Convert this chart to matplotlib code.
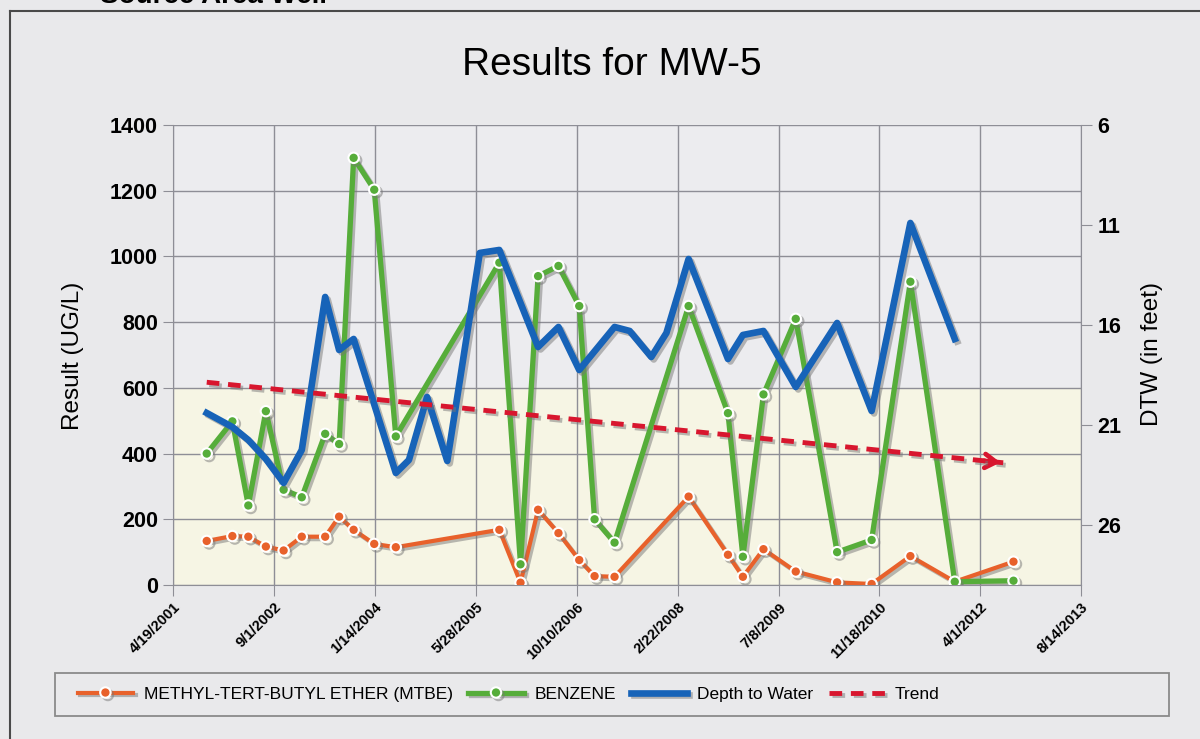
import matplotlib
matplotlib.use("Agg")
import matplotlib.pyplot as plt
import matplotlib.patheffects as pe
import matplotlib.dates as mdates
from matplotlib.lines import Line2D
from matplotlib.patches import Rectangle
import pandas as pd

# sampling dates shared by MTBE and benzene
sample_dates = ["2001-10-03", "2002-02-07", "2002-04-27", "2002-07-23", "2002-10-19",
                "2003-01-17", "2003-05-13", "2003-07-21", "2003-10-01", "2004-01-11",
                "2004-04-27", "2005-09-22", "2006-01-05", "2006-04-02", "2006-07-12",
                "2006-10-23", "2007-01-07", "2007-04-16", "2008-04-17", "2008-10-29",
                "2009-01-11", "2009-04-23", "2009-09-30", "2010-04-23", "2010-10-11",
                "2011-04-21", "2011-11-27", "2012-09-13"]
mtbe = [134, 149, 147, 117, 105, 147, 147, 208, 168, 125, 115, 168, 7, 229, 158,
        76, 27, 25, 269, 92, 25, 109, 41, 8, 3, 88, 10, 71]
benzene = [400, 498, 242, 529, 290, 267, 460, 429, 1300, 1203, 452, 981, 63, 940, 971,
           849, 200, 129, 849, 523, 86, 580, 810, 100, 137, 923, 10, 13]

# depth to water (feet)
dtw_dates = ["2001-10-03", "2002-02-07", "2002-04-27", "2002-07-23", "2002-10-19",
             "2003-01-17", "2003-05-13", "2003-07-21", "2003-10-01", "2004-04-27",
             "2004-07-01", "2004-09-29", "2005-01-07", "2005-06-17", "2005-09-22",
             "2006-04-02", "2006-07-12", "2006-10-23", "2007-04-16", "2007-06-30",
             "2007-10-15", "2007-12-29", "2008-04-17", "2008-10-29", "2009-01-11",
             "2009-04-23", "2009-09-30", "2010-04-23", "2010-10-11", "2011-04-21",
             "2011-11-27"]
dtw = [20.4, 21.1, 21.75, 22.7, 23.9, 22.25, 14.6, 17.25, 16.7, 23.4,
       22.75, 19.6, 22.8, 12.4, 12.25, 17.1, 16.1, 18.25, 16.1, 16.3,
       17.6, 16.4, 12.7, 17.7, 16.5, 16.3, 19.1, 15.9, 20.3, 10.9, 16.7]

trend_dates = ["2001-10-03", "2012-07-24"]
trend_values = [617, 372]

tick_dates = ["2001-04-19", "2002-09-01", "2004-01-14", "2005-05-28", "2006-10-10",
              "2008-02-22", "2009-07-08", "2010-11-18", "2012-04-01", "2013-08-14"]
tick_labels = ["4/19/2001", "9/1/2002", "1/14/2004", "5/28/2005", "10/10/2006",
               "2/22/2008", "7/8/2009", "11/18/2010", "4/1/2012", "8/14/2013"]
result_ticks = [0, 200, 400, 600, 800, 1000, 1200, 1400]
dtw_ticks = [6, 11, 16, 21, 26]

plt.rcParams["font.family"] = ["Liberation Sans", "DejaVu Sans"]

sd = mdates.date2num(pd.to_datetime(sample_dates))
dd = mdates.date2num(pd.to_datetime(dtw_dates))
td = mdates.date2num(pd.to_datetime(trend_dates))
xt = mdates.date2num(pd.to_datetime(tick_dates))

fig = plt.figure(figsize=(12, 7.39), dpi=100, facecolor="#e9e9eb")
ax = fig.add_axes([0.1442, 0.2084, 0.7567, 0.6225])
ax.set_facecolor("#ececef")
ax.axhspan(0, 600, color="#f6f5e4", zorder=0)

shadow = [pe.SimpleLineShadow(offset=(1.8, -1.8), shadow_color="#777777", alpha=0.5), pe.Normal()]

l1, = ax.plot(sd, mtbe, color="#e8612b", lw=3, marker="o", ms=7.5, mec="white", mew=1.5,
              path_effects=shadow, zorder=3, label="METHYL-TERT-BUTYL ETHER (MTBE)")
l2, = ax.plot(sd, benzene, color="#56ad3a", lw=3.8, marker="o", ms=7.5, mec="white", mew=1.5,
              path_effects=shadow, zorder=4, label="BENZENE")

ax.set_xlim(xt[0], xt[-1])
ax.set_ylim(0, 1400)
ax.set_xticks(xt)
ax.set_xticklabels(tick_labels, rotation=45, ha="right", rotation_mode="anchor",
                   fontsize=10.5, fontweight="bold")
ax.set_yticks(result_ticks, labels=[str(v) for v in result_ticks], fontsize=15.5, fontweight="bold")
ax.grid(True, color="#8e8e96", lw=1)
ax.set_axisbelow(True)
ax.tick_params(axis="y", length=7, color="#8e8e96", pad=4)
ax.tick_params(axis="x", length=8, color="#8e8e96", pad=3)
for s in ["top", "right"]:
    ax.spines[s].set_visible(False)
for s in ["left", "bottom"]:
    ax.spines[s].set_color("#8e8e96")

ax2 = ax.twinx()
l3, = ax2.plot(dd, dtw, color="#1763b8", lw=4.8, path_effects=shadow, zorder=5, label="Depth to Water")
ax2.set_ylim(29, 6)
ax2.set_yticks(dtw_ticks, labels=[str(v) for v in dtw_ticks], fontsize=15.5, fontweight="bold")
ax2.tick_params(axis="y", length=8, color="#8e8e96", pad=4)
for s in ["top", "left", "bottom"]:
    ax2.spines[s].set_visible(False)
ax2.spines["right"].set_color("#8e8e96")
ax2.set_xlim(xt[0], xt[-1])

# trend drawn on top using the result axis scale
l4, = ax2.plot(td, trend_values, transform=ax.transData, color="#d8162e", lw=3.5,
               dashes=(2.6, 1.8), path_effects=shadow, zorder=6, label="Trend")
ax2.annotate("", xy=(td[-1], trend_values[-1]), xycoords=ax.transData,
             xytext=(-16, 1.6), textcoords="offset points",
             arrowprops=dict(arrowstyle="->,head_length=0.8,head_width=0.5",
                             color="#d8162e", lw=3.4))
ax2.set_ylim(29, 6)

fig.text(612 / 1200, 1 - 65 / 739, "Results for MW-5", ha="center", va="center", fontsize=28)
fig.text(73 / 1200, 1 - 356 / 739, "Result (UG/L)", rotation=90, ha="center", va="center", fontsize=17.5)
fig.text(1152 / 1200, 1 - 354 / 739, "DTW (in feet)", rotation=90, ha="center", va="center", fontsize=17.5)
fig.text(100 / 1200, 1 - 3 / 739, "Source Area Well", fontsize=20, fontweight="bold", va="baseline")

# outer frame of the pasted chart
fig.add_artist(Line2D([10 / 1200, 10 / 1200], [0, 1 - 11 / 739], transform=fig.transFigure,
                      color="#4a4a4a", lw=1.5))
fig.add_artist(Line2D([10 / 1200, 1], [1 - 11 / 739, 1 - 11 / 739], transform=fig.transFigure,
                      color="#4a4a4a", lw=1.5))

# legend box is wider than its entries
fig.add_artist(Rectangle((55 / 1200, 1 - 716 / 739), 1114 / 1200, 43 / 739, transform=fig.transFigure,
                         fill=False, ec="#8a8a8a", lw=1.3))
fig.legend([l1, l2, l3, l4], [l.get_label() for l in [l1, l2, l3, l4]], loc="center left",
           bbox_to_anchor=(62 / 1200, 1 - 694 / 739), ncol=4, frameon=False, handlelength=3.2,
           handletextpad=0.6, columnspacing=0.9, prop={"size": 12.5})

fig.savefig("out.png", dpi=100, facecolor=fig.get_facecolor())
